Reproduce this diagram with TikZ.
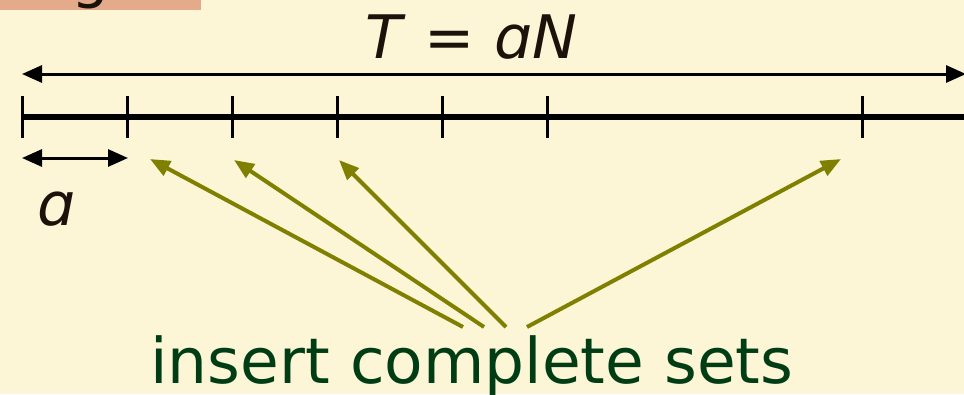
\documentclass[tikz,border=0pt]{standalone}
\usepackage{fontspec}
\setmainfont{DejaVu Sans}
\usepackage{xcolor}
\usetikzlibrary{arrows.meta}
\definecolor{bgColor}{HTML}{FDF6D6}
\definecolor{barColor}{HTML}{E3AB8A}
\definecolor{oliveColor}{HTML}{808000}
\definecolor{textGreen}{HTML}{003D14}
\definecolor{inkColor}{HTML}{1C120C}

\begin{document}
\begin{tikzpicture}[x=1pt, y=-1pt,
    bigtext/.style={font=\fontsize{60}{72}\selectfont, inner sep=0pt, anchor=base},
    span/.style={line width=3pt, {Triangle[length=20pt,width=17pt]}-{Triangle[length=20pt,width=17pt]}},
    insert/.style={oliveColor, line width=4pt, -{Triangle[length=20pt,width=16pt]}}]
    \useasboundingbox (0,0) rectangle (964,394);
    \fill[bgColor] (0,0) rectangle (964,394);
    % title bar, cut off at the top
    \fill[barColor] (0,0) rectangle (201,10);
    \begin{scope}
        \clip (0,0) rectangle (964,394);
        \node[bigtext, inkColor] (g) at (91,-4) {g};
    \end{scope}
    % time line
    \coordinate (start) at (22,117);
    \coordinate (stop) at (964,117);
    \draw[line width=6pt] (start) -- (stop);
    \foreach \x in {22,127,232,337,442,547,862}
        \draw[line width=3pt] (\x,96) -- (\x,138);
    % total span
    \coordinate (tl) at (22,74);
    \coordinate (tr) at (966,74);
    \draw[span] (tl) -- (tr);
    \node[bigtext, inkColor] (total) at (471,58) {\textit{T} = \textit{ɑN}};
    % one step
    \coordinate (al) at (22,158);
    \coordinate (ar) at (128,158);
    \draw[span] (al) -- (ar);
    \node[bigtext, inkColor] (step) at (57,225) {\textit{ɑ}};
    % label and arrows
    \node[bigtext, textGreen, font=\fontsize{63}{75}\selectfont] (sets) at (472,383) {insert complete sets};
    \coordinate (s1) at (463,327);
    \coordinate (s2) at (484,327);
    \coordinate (s3) at (506,327);
    \coordinate (s4) at (527,327);
    \coordinate (t1) at (150,159);
    \coordinate (t2) at (234,160);
    \coordinate (t3) at (339,160);
    \coordinate (t4) at (841,159);
    \foreach \i in {1,2,3,4}
        \draw[insert] (s\i) -- (t\i);
\end{tikzpicture}
\end{document}
